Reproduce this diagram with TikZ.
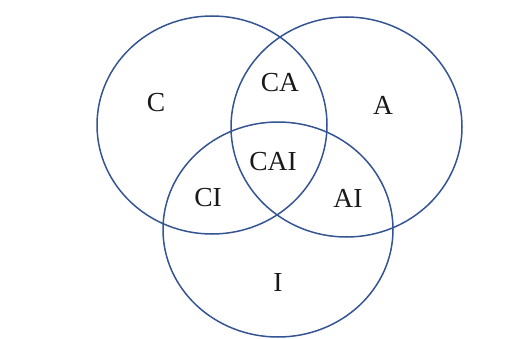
\documentclass[tikz,border=0pt]{standalone}
\usepackage{fontspec}
\setmainfont{Liberation Serif}
\definecolor{ring}{RGB}{52,84,148}
\begin{document}
\begin{tikzpicture}[x=1pt,y=1pt,
  setring/.style={draw=ring,line width=1.5pt},
  lab/.style={font=\fontsize{27.5}{27.5}\selectfont,text=black!90,inner sep=0pt}]
\useasboundingbox (0,0) rectangle (511,338);
\draw[setring] (212,213) ellipse [x radius=115,y radius=109];
\draw[setring] (346.5,211) ellipse [x radius=115.5,y radius=110];
\draw[setring] (278,108.5) ellipse [x radius=115,y radius=107.5];
\node[lab] (c) at (156,235) {C};
\node[lab] (a) at (383,233) {A};
\node[lab] (ca) at (280,255) {CA};
\node[lab] (cai) at (273,176) {CAI};
\node[lab] (ci) at (208,140) {CI};
\node[lab] (ai) at (348,140) {AI};
\node[lab] (i) at (278,56) {I};
\end{tikzpicture}
\end{document}
